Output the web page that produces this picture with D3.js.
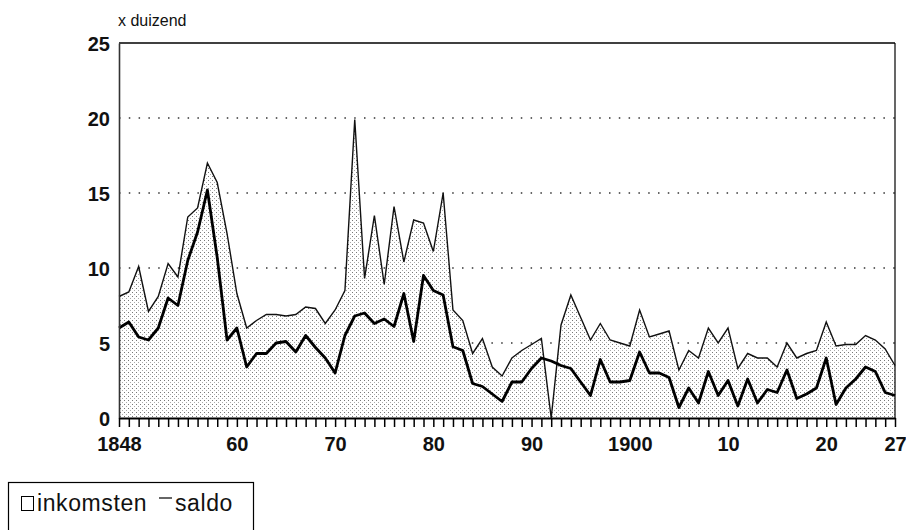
<!DOCTYPE html>
<html>
<head>
<meta charset="utf-8">
<script src="https://cdn.jsdelivr.net/npm/d3@7"></script>
<style>
  body { margin: 0; background: #fff; }
  text { font-family: "Liberation Sans", Arial, sans-serif; fill: #111; }
</style>
</head>
<body>
<script>
// Data (values x 1000)
var years = d3.range(1848, 1928);

var inkomsten = [8.1, 8.4, 10.1, 7.1, 8.1, 10.3, 9.4, 13.4, 14.0, 17.0,
  15.7, 12.3, 8.3, 6.0, 6.5, 6.9, 6.9, 6.8, 6.9, 7.4,
  7.3, 6.3, 7.2, 8.5, 19.9, 9.3, 13.5, 8.9, 14.1, 10.4,
  13.2, 13.0, 11.1, 15.0, 7.2, 6.5, 4.3, 5.3, 3.4, 2.8,
  4.0, 4.5, 4.9, 5.3, 0.0, 6.2, 8.2, 6.7, 5.2, 6.3,
  5.2, 5.0, 4.8, 7.2, 5.4, 5.6, 5.8, 3.2, 4.5, 4.0,
  6.0, 5.0, 6.0, 3.3, 4.3, 4.0, 4.0, 3.4, 5.0, 4.0,
  4.3, 4.5, 6.4, 4.8, 4.9, 4.9, 5.5, 5.2, 4.6, 3.5];

var saldo = [6.0, 6.4, 5.4, 5.2, 6.0, 8.0, 7.5, 10.5, 12.4, 15.2,
  10.7, 5.2, 6.0, 3.4, 4.3, 4.3, 5.0, 5.1, 4.4, 5.5,
  4.7, 4.0, 3.0, 5.5, 6.8, 7.0, 6.3, 6.6, 6.1, 8.3,
  5.1, 9.5, 8.5, 8.2, 4.75, 4.5, 2.3, 2.1, 1.6, 1.1,
  2.4, 2.4, 3.3, 4.0, 3.8, 3.5, 3.3, 2.4, 1.5, 3.9,
  2.4, 2.4, 2.5, 4.4, 3.0, 3.0, 2.7, 0.7, 2.0, 1.0,
  3.1, 1.5, 2.5, 0.8, 2.6, 1.0, 1.9, 1.7, 3.2, 1.3,
  1.6, 2.0, 4.0, 0.9, 2.0, 2.6, 3.4, 3.1, 1.7, 1.5];

var tickYears = [1848, 1860, 1870, 1880, 1890, 1900, 1910, 1920, 1927];
var tickLabels = ["1848", "60", "70", "80", "90", "1900", "10", "20", "27"];
var yTicks = [0, 5, 10, 15, 20, 25];

var width = 906,
    height = 530;

var svg = d3.select("body")
    .append("svg")
    .attr("width", width)
    .attr("height", height);

// stipple texture for the inkomsten area
var defs = svg.append("defs");
var pat = defs.append("pattern")
    .attr("id", "stipple")
    .attr("width", 4)
    .attr("height", 4)
    .attr("patternUnits", "userSpaceOnUse");
pat.append("rect").attr("width", 4).attr("height", 4).attr("fill", "#fff");
pat.append("rect").attr("x", 0).attr("y", 0).attr("width", 1).attr("height", 1).attr("fill", "#777");
pat.append("rect").attr("x", 2).attr("y", 2).attr("width", 1).attr("height", 1).attr("fill", "#aaa");

var x = d3.scaleLinear()
    .domain([1848, 1927])
    .range([119, 895]);

var y = d3.scaleLinear()
    .domain([0, 25])
    .range([418, 43]);

// dotted grid lines
svg.append("g")
    .selectAll("line")
    .data([5, 10, 15, 20])
    .enter().append("line")
    .attr("x1", x(1848))
    .attr("x2", x(1927))
    .attr("y1", function(d) { return y(d); })
    .attr("y2", function(d) { return y(d); })
    .attr("stroke", "#333")
    .attr("stroke-width", 1.5)
    .attr("stroke-dasharray", "1.5,8.3");

// area under inkomsten
var area = d3.area()
    .x(function(d, i) { return x(years[i]); })
    .y0(y(0))
    .y1(function(d) { return y(d); });

svg.append("path")
    .datum(inkomsten)
    .attr("d", area)
    .attr("fill", "url(#stipple)");

var line = d3.line()
    .x(function(d, i) { return x(years[i]); })
    .y(function(d) { return y(d); });

svg.append("path")
    .datum(inkomsten)
    .attr("d", line)
    .attr("fill", "none")
    .attr("stroke", "#111")
    .attr("stroke-width", 1.4);

svg.append("path")
    .datum(saldo)
    .attr("d", line)
    .attr("fill", "none")
    .attr("stroke", "#000")
    .attr("stroke-width", 2.8)
    .attr("stroke-linejoin", "round");

// frame: top and right edges
svg.append("line")
    .attr("x1", x(1848)).attr("x2", x(1927))
    .attr("y1", y(25)).attr("y2", y(25))
    .attr("stroke", "#000").attr("stroke-width", 1.5);
svg.append("line")
    .attr("x1", x(1927)).attr("x2", x(1927))
    .attr("y1", y(25)).attr("y2", y(0))
    .attr("stroke", "#000").attr("stroke-width", 1.2);

// y axis (no tick marks, just the labels)
var yAxis = svg.append("g")
    .attr("transform", "translate(" + x(1848) + ",0)")
    .call(d3.axisLeft(y).tickValues(yTicks).tickSize(0).tickPadding(9));
yAxis.select(".domain").attr("stroke", "#333").attr("stroke-width", 1.6);
yAxis.selectAll("text")
    .style("font-size", "20px")
    .style("font-weight", "bold")
    .attr("dy", "0.36em");

// x axis: a tick every year, labels only on a few
var xAxis = svg.append("g")
    .attr("transform", "translate(0," + y(0) + ")")
    .call(d3.axisBottom(x)
        .tickValues(years)
        .tickSize(9)
        .tickSizeOuter(0)
        .tickFormat(function(d) {
            var k = tickYears.indexOf(d);
            return k < 0 ? "" : tickLabels[k];
        }));
xAxis.select(".domain").attr("stroke", "#000").attr("stroke-width", 2);
xAxis.selectAll(".tick line").attr("stroke", "#000").attr("stroke-width", 1.5);
xAxis.selectAll("text")
    .style("font-size", "20px")
    .style("font-weight", "bold")
    .attr("y", 19);

// unit label
svg.append("text")
    .attr("x", 118)
    .attr("y", 26)
    .style("font-size", "16px")
    .text("x duizend");

// legend
var legend = svg.append("g");
legend.append("rect")
    .attr("x", 8.5).attr("y", 482.5)
    .attr("width", 245).attr("height", 60)
    .attr("fill", "none").attr("stroke", "#000").attr("stroke-width", 1.2);
legend.append("rect")
    .attr("x", 21.5).attr("y", 496.5)
    .attr("width", 12).attr("height", 14)
    .attr("fill", "#fff").attr("stroke", "#000").attr("stroke-width", 1);
legend.append("text")
    .attr("x", 37).attr("y", 511)
    .style("font-size", "23px")
    .style("letter-spacing", "0.6px")
    .text("inkomsten");
legend.append("line")
    .attr("x1", 159).attr("x2", 172)
    .attr("y1", 498).attr("y2", 498)
    .attr("stroke", "#000").attr("stroke-width", 1.2);
legend.append("text")
    .attr("x", 175).attr("y", 511)
    .style("font-size", "23px")
    .style("letter-spacing", "0.6px")
    .text("saldo");
</script>
</body>
</html>
